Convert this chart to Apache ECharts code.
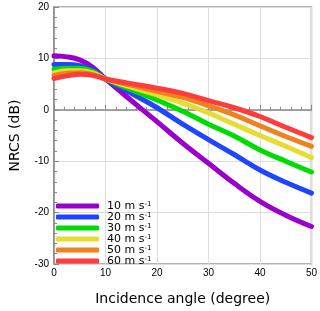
<!DOCTYPE html>
<html>
<head>
<meta charset="utf-8">
<script src="https://cdn.jsdelivr.net/npm/echarts@6/dist/echarts.min.js"></script>
<style>html,body{margin:0;padding:0;background:#fff}#c{width:320px;height:311px}</style>
</head>
<body>
<div id="c"></div>
<script>
var angles = [0, 2.5, 5, 7.5, 10, 15, 20, 25, 30, 35, 40, 45, 50];
var names = ['10', '20', '30', '40', '50', '60'];
var ws10 = [10.5, 10.3, 9.7, 8.3, 6.0, 1.8, -2.3, -6.5, -10.4, -14.3, -17.8, -20.5, -22.7];
var ws20 = [8.8, 8.8, 8.6, 7.8, 6.0, 3.2, 0.4, -2.8, -5.8, -8.7, -11.7, -14.1, -16.2];
var ws30 = [7.9, 8.1, 8.1, 7.5, 6.0, 3.9, 1.9, -0.3, -2.8, -5.1, -7.8, -10.0, -12.1];
var ws40 = [7.2, 7.6, 7.6, 7.2, 6.0, 4.4, 2.9, 1.3, -0.6, -2.8, -5.0, -7.1, -9.3];
var ws50 = [6.7, 7.1, 7.2, 6.9, 6.0, 4.8, 3.6, 2.4, 0.8, -1.0, -3.1, -5.2, -7.1];
var ws60 = [6.1, 6.6, 6.9, 6.7, 6.0, 5.1, 4.2, 3.2, 1.8, 0.4, -1.3, -3.4, -5.4];
var values = [ws10, ws20, ws30, ws40, ws50, ws60];
var colors = ['#9900cc', '#1e46ff', '#00dc00', '#e6dc32', '#f0821e', '#ff3c3c'];

var chart = echarts.init(document.getElementById('c'), null, {renderer: 'canvas'});
var series = names.map(function (n, i) {
  return {
    name: n,
    type: 'line',
    smooth: 0.4,
    showSymbol: false,
    symbol: 'none',
    data: angles.map(function (a, j) { return [a, values[i][j]]; }),
    lineStyle: {color: colors[i], width: 5, cap: 'round'},
    itemStyle: {color: colors[i]}
  };
});
chart.setOption({
  animation: false,
  grid: {left: 48.5, right: 8, top: 7, bottom: 41.7, show: true, borderColor: '#999', borderWidth: 1.5, backgroundColor: 'transparent'},
  legend: {
    orient: 'vertical', left: 51, top: 195.5,
    icon: 'roundRect', itemWidth: 43, itemHeight: 5, itemGap: 0,
    data: names,
    formatter: function (n) { return '{n|' + n + ' m s}{s|-1}'; },
    textStyle: {
      fontFamily: 'DejaVu Sans', fontSize: 11, color: '#000', padding: [0, 0, 0, 3],
      rich: {
        n: {fontFamily: 'DejaVu Sans', fontSize: 11, lineHeight: 10.5, color: '#000'},
        s: {fontFamily: 'DejaVu Sans', fontSize: 7, lineHeight: 10.5, verticalAlign: 'top', color: '#000'}
      }
    }
  },
  xAxis: {
    type: 'value', min: 0, max: 50, interval: 10,
    name: 'Incidence angle (degree)', nameLocation: 'middle', nameGap: 28,
    nameTextStyle: {fontFamily: 'DejaVu Sans', fontSize: 14, color: '#000'},
    axisLine: {lineStyle: {color: '#888', width: 1.5}},
    axisTick: {inside: true, length: 5, lineStyle: {color: '#888'}},
    minorTick: {show: true, splitNumber: 5, length: 3, lineStyle: {color: '#888'}},
    axisLabel: {fontFamily: 'Liberation Sans', fontSize: 10, color: '#000', margin: 4},
    splitLine: {show: true, lineStyle: {color: '#ddd', width: 1}}
  },
  yAxis: {
    type: 'value', min: -30, max: 20, interval: 10,
    name: 'NRCS (dB)', nameLocation: 'middle', nameGap: 32,
    nameTextStyle: {fontFamily: 'DejaVu Sans', fontSize: 14, color: '#000'},
    axisLine: {show: true, lineStyle: {color: '#888', width: 1.5}},
    axisTick: {show: true, inside: true, length: 5, lineStyle: {color: '#888'}},
    minorTick: {show: true, splitNumber: 5, length: 3, lineStyle: {color: '#888'}},
    axisLabel: {fontFamily: 'Liberation Sans', fontSize: 10, color: '#000', margin: 5},
    splitLine: {show: true, lineStyle: {color: '#ddd', width: 1}}
  },
  series: series
});
</script>
</body>
</html>
